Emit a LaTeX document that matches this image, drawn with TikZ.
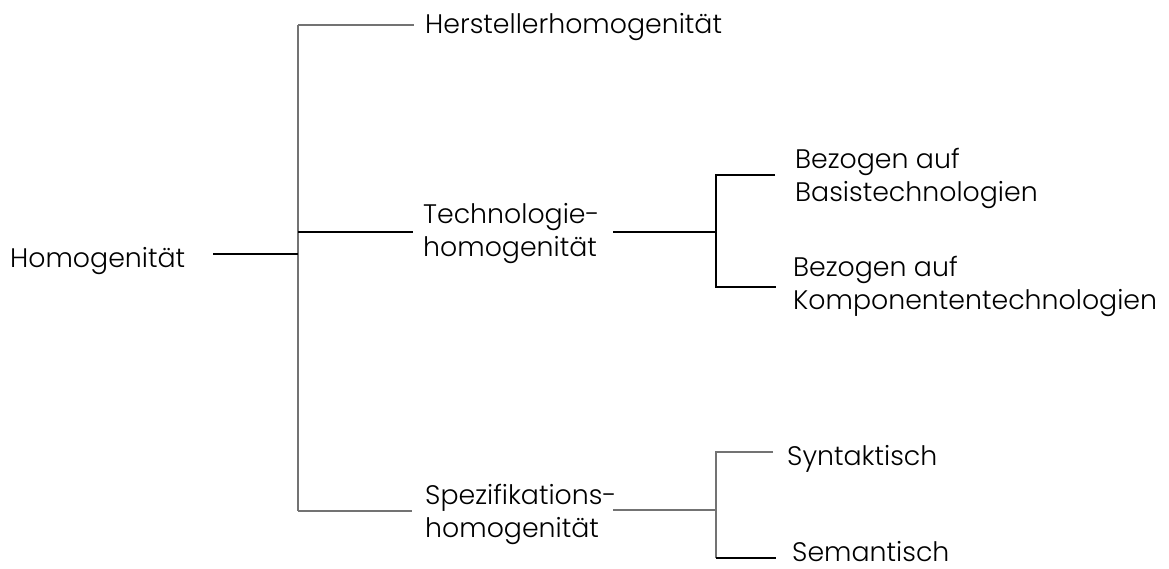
\documentclass[tikz,border=0pt]{standalone}
\usepackage{fontspec}
\setmainfont{Poppins}[UprightFont=* Light]
\begin{document}
\begin{tikzpicture}[x=1pt,y=-1pt,
  lbl/.style={anchor=west,inner sep=0pt,align=left,font=\fontsize{26.8}{33}\selectfont},
  conn/.style={line width=1.3pt,black},
  connlight/.style={line width=1.3pt,black!55}]
\useasboundingbox (0,0) rectangle (1169,569);

% labels
\node[lbl] (root) at (10,261) {Homogenität};
\node[lbl] (hst)  at (425,27) {Herstellerhomogenität};
\node[lbl] (tech) at (423,234) {Technologie-\\homogenität};
\node[lbl] (spez) at (425,514) {Spezifikations-\\homogenität};
\node[lbl] (basis) at (795,178) {Bezogen auf\\Basistechnologien};
\node[lbl] (komp)  at (793,286) {Bezogen auf\\Komponententechnologien};
\node[lbl] (syn) at (787,459) {Syntaktisch};
\node[lbl] (sem) at (792,552) {Semantisch};

% branch points
\coordinate (rootR) at (213,254);
\coordinate (trTop) at (298,25);
\coordinate (trRoot) at (298,254);
\coordinate (trTech) at (298,232);
\coordinate (trSpez) at (298,511);
\coordinate (hstL) at (414,25);
\coordinate (techL) at (413,232);
\coordinate (spezL) at (412,511);
\coordinate (techR) at (613,232);
\coordinate (spezR) at (613,510);
\coordinate (subA) at (716,232);
\coordinate (subAtop) at (716,175);
\coordinate (subAbot) at (716,287);
\coordinate (basisL) at (775,175);
\coordinate (kompL) at (776,287);
\coordinate (subB) at (716,510);
\coordinate (subBtop) at (716,452);
\coordinate (subBbot) at (716,558);
\coordinate (synL) at (773,452);
\coordinate (semL) at (776,558);

% first level
\draw[connlight] (trTop) -- (trSpez);
\draw[connlight] (trTop) -- (hstL);
\draw[conn] (trTech) -- (techL);
\draw[conn] (rootR) -- (trRoot);
\draw[connlight] (trSpez) -- (spezL);

% technology branch
\draw[conn] (techR) -- (subA);
\draw[conn] (basisL) -- (subAtop) -- (subAbot) -- (kompL);

% specification branch
\draw[connlight] (spezR) -- (subB);
\draw[connlight] (synL) -- (subBtop) -- (subBbot);
\draw[conn] (subBbot) -- (semL);
\end{tikzpicture}
\end{document}
